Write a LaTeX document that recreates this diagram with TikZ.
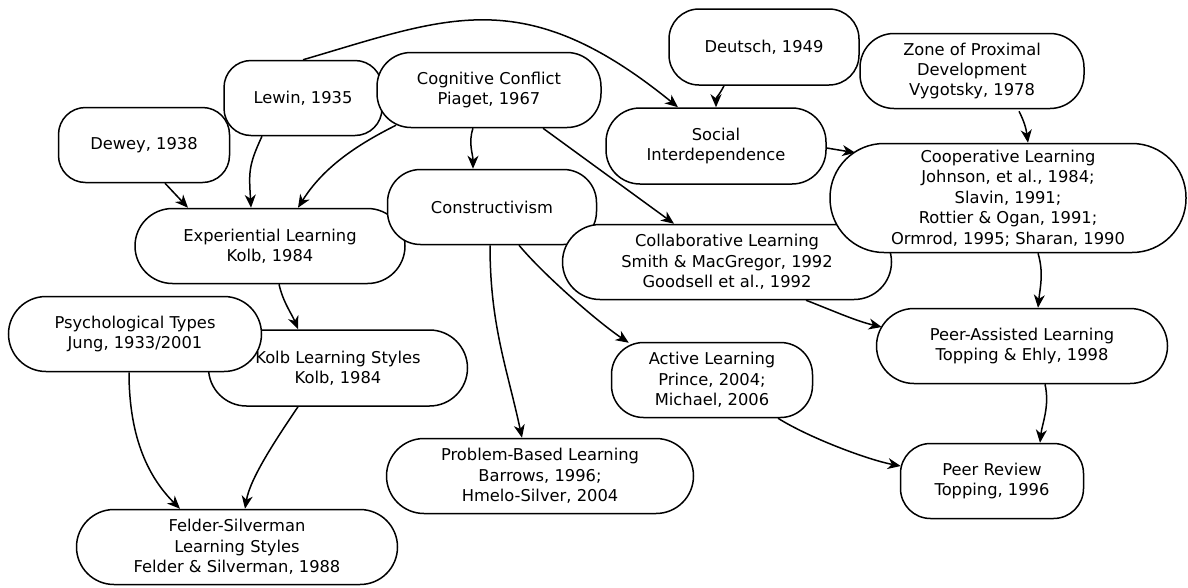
\documentclass[tikz,border=0pt]{standalone}
\usepackage{fontspec}
\setmainfont{DejaVu Sans}
\usetikzlibrary{arrows.meta,calc,shapes.misc}
\tikzset{
  box/.style={draw, line width=1.5pt, fill=white, rounded corners=37pt, align=center,
    inner sep=0pt, minimum height=75pt, font=\fontsize{16.3}{20.4}\selectfont},
  pill/.style={box, rounded rectangle, rounded corners=0pt},
  conn/.style={line width=1.5pt, -{Stealth[length=13pt,width=11pt,inset=4pt]}}
}
\begin{document}
\begin{tikzpicture}[x=1pt,y=-1pt]
\useasboundingbox (0,0) rectangle (1188,587);
% nodes
\node[box, minimum width=171pt, rounded corners=27pt] (dewey) at (144,145) {Dewey, 1938};
\node[box, minimum width=158pt, rounded corners=27pt] (lewin) at (303,98) {Lewin, 1935};
\node[box, minimum width=224pt, rounded corners=34pt] (cog) at (489,90) {Cognitive Conflict\\Piaget, 1967};
\node[box, minimum width=190pt, minimum height=76pt, rounded corners=30pt] (deutsch) at (764,47) {Deutsch, 1949};
\node[box, minimum width=224pt, rounded corners=34pt] (zone) at (972,71) {Zone of Proximal\\Development\\Vygotsky, 1978};
\node[box, minimum width=220pt, minimum height=76pt, rounded corners=34pt] (social) at (716,146) {Social\\Interdependence};
\node[pill, minimum width=270pt] (exp) at (270,246) {Experiential Learning\\Kolb, 1984};
\node[box, minimum width=209pt, rounded corners=33pt] (cons) at (492,207) {Constructivism};
\node[pill, minimum width=329pt] (collab) at (727,262) {Collaborative Learning\\Smith \& MacGregor, 1992\\Goodsell et al., 1992};
\node[box, minimum width=356pt, minimum height=109pt, rounded corners=54pt] (coop) at (1008,198) {Cooperative Learning\\Johnson, et al., 1984;\\Slavin, 1991;\\Rottier \& Ogan, 1991;\\Ormrod, 1995; Sharan, 1990};
\node[pill, minimum width=259pt, minimum height=76pt] (kolb) at (338,368) {Kolb Learning Styles\\Kolb, 1984};
\node[pill, minimum width=253pt] (psych) at (135,334) {Psychological Types\\Jung, 1933/2001};
\node[pill, minimum width=291pt] (peera) at (1022,346) {Peer-Assisted Learning\\Topping \& Ehly, 1998};
\node[box, minimum width=201pt, rounded corners=32pt] (active) at (712,380) {Active Learning\\Prince, 2004;\\Michael, 2006};
\node[pill, minimum width=307pt] (prob) at (540,476) {Problem-Based Learning\\Barrows, 1996;\\Hmelo-Silver, 2004};
\node[box, minimum width=183pt, rounded corners=30pt] (review) at (992,481) {Peer Review\\Topping, 1996};
\node[pill, minimum width=321pt] (felder) at (237,547) {Felder-Silverman\\Learning Styles\\Felder \& Silverman, 1988};
% connectors
\draw[conn] (lewin.north) .. controls ($(lewin.north)+(144,-42)$) and ($(social.north)+(-193,-126)$) .. ($(social.north)+(-38,0)$);
\draw[conn] ($(deutsch.south)+(-40,0)$) .. controls ($(deutsch.south)+(-45,10)$) and ($(social.north)+(0,-10)$) .. (social.north);
\draw[conn] ($(dewey.south)+(21,0)$) -- ($(exp.north)+(-82,0)$);
\draw[conn] ($(lewin.south)+(-41,0)$) .. controls ($(lewin.south)+(-55,30)$) and ($(exp.north)+(-21,-35)$) .. ($(exp.north)+(-19,0)$);
\draw[conn] ($(cog.south)+(-93,-3)$) .. controls ($(cog.south)+(-133,17)$) and ($(exp.north)+(53,-40)$) .. ($(exp.north)+(28,0)$);
\draw[conn] ($(cog.south)+(-16,0)$) .. controls ($(cog.south)+(-21,15)$) and ($(cons.north)+(-19,-15)$) .. ($(cons.north)+(-19,0)$);
\draw[conn] ($(cog.south)+(54,0)$) -- ($(collab.north)+(-53,0)$);
\draw[conn] ($(social.east)+(0,2)$) -- ($(coop.north west)+(26,10)$);
\draw[conn] ($(zone.south)+(47,2)$) .. controls ($(zone.south)+(52,12)$) and ($(coop.north)+(18,-15)$) .. ($(coop.north)+(20,0)$);
\draw[conn] ($(coop.south)+(30,0)$) .. controls ($(coop.south)+(36,20)$) and ($(peera.north)+(18,-20)$) .. ($(peera.north)+(16,0)$);
\draw[conn] ($(collab.south)+(79,0)$) .. controls ($(collab.south)+(105,10)$) and ($(peera.west)+(-20,-25)$) .. ($(peera.west)+(6,-19)$);
\draw[conn] ($(cons.south)+(-2,0)$) .. controls ($(cons.south)+(-2,80)$) and ($(prob.north)+(-33,-70)$) .. ($(prob.north)+(-18,0)$);
\draw[conn] ($(cons.south)+(27,0)$) .. controls ($(cons.south)+(52,30)$) and ($(active.north west)+(-12,-19)$) .. ($(active.north west)+(18,1)$);
\draw[conn] ($(exp.south)+(9,0)$) .. controls ($(exp.south)+(13,18)$) and ($(kolb.north)+(-46,-15)$) .. ($(kolb.north)+(-40,0)$);
\draw[conn] ($(psych.south)+(-6,0)$) .. controls ($(psych.south)+(-6,68)$) and ($(felder.north)+(-87,-30)$) .. ($(felder.north)+(-57,0)$);
\draw[conn] ($(kolb.south)+(-40,0)$) .. controls ($(kolb.south)+(-63,34)$) and ($(felder.north)+(13,-30)$) .. ($(felder.north)+(8,0)$);
\draw[conn] ($(active.south)+(66,0)$) .. controls ($(active.south)+(98,20)$) and ($(review.west)+(-31,-21)$) .. ($(review.west)+(1,-15)$);
\draw[conn] ($(peera.south)+(23,0)$) .. controls ($(peera.south)+(28,22)$) and ($(review.north)+(50,-19)$) .. ($(review.north)+(48,0)$);
\end{tikzpicture}
\end{document}
